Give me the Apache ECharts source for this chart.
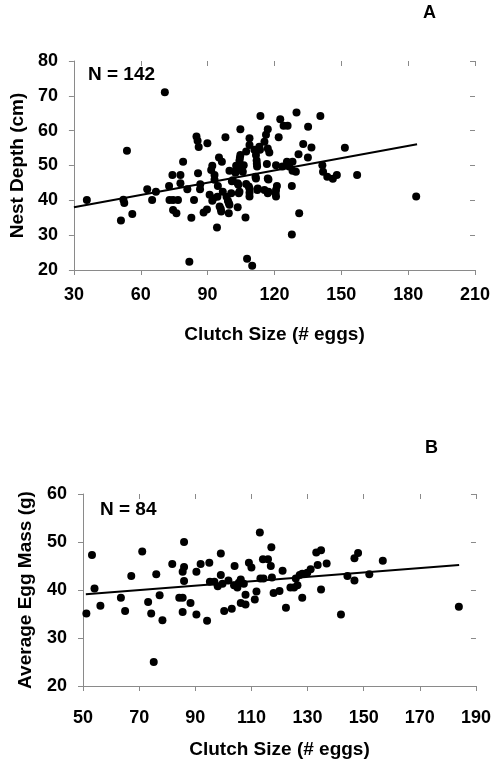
<!DOCTYPE html>
<html>
<head>
<meta charset="utf-8">
<script src="https://cdn.jsdelivr.net/npm/echarts@6/dist/echarts.min.js"></script>
<style>
  html, body { margin: 0; padding: 0; background: #fff; }
  #chart { width: 494px; height: 764px; }
</style>
</head>
<body>
<div id="chart"></div>
<script>
// panel A: clutch size vs nest depth (N = 142)
var nestDepthPoints = [
  [35.8,40.1],[51.1,34.2],[52.2,40.2],[52.6,39.2],[53.8,54.2],[56.2,36.1],[62.9,43.2],[65.1,40.1],[66.8,42.5],[70.8,71],
  [72.7,44.1],[72.9,40.1],[74.2,47.3],[74.5,40.1],[74.5,37.2],[76,36.3],[76.7,40.1],[77.8,47.3],[77.8,44.9],[79,51.1],
  [80.9,43.2],[81.8,22.4],[82.7,35],[83.9,40.1],
  [85,58.3],[85.5,57.1],[86,55.3],[85.7,47.8],[86.7,44.6],[86.6,43.2],[89.7,37.4],[93.1,47.3],[94.4,41],[98.5,41],
  [106.2,50.1],[116.6,50.4],[123.6,49.7],[126.6,49.7],
  [116.2,58.8],[98,58.1],[108.8,57.8],[121.9,58.1],[89.9,56.4],[115.5,56.8],[108.8,55.9],[113.2,55.4],[111,54.5],[117,54.9],
  [117.7,53.7],[107.3,54],[104.7,53],[111.7,53],[95.1,52.3],[104.3,51.4],[112,51.4],[96.4,51.1],[125.6,51.1],[128.1,51.1],
  [92.1,49.9],[102.8,49.9],[99.8,48.5],[104.7,49.2],[112.2,49.7],[120.7,50.1],[91.6,48.7],[128.1,48.5],[102.5,47.9],[105.8,48.2],
  [111.7,46.3],[117,46.3],[93.1,45.9],[101.3,45.8],[94.6,44.1],[103.5,44.9],[107.3,44.7],[121.1,44.1],[127.8,44.1],[96.8,42.5],
  [108.8,43.4],[112.5,43.4],[115.5,43],[120.7,43],[90.9,41.6],[100.6,42],[104.3,42.5],[117,42],[108.8,41.1],[120.7,41.1],
  [92.1,39.9],[99.1,39.9],[95.4,38.2],[99.8,38.7],[103.5,38],[88.2,36.5],[96.1,36.8],[99.5,36.3],[107,35.1],[94.2,32.2],
  [127.8,30.2],[107.7,23.2],[110,21.2],
  [104.7,60.4],[113.7,64.2],[117,60.4],[122.6,63.3],[124.1,61.4],[125.9,61.4],
  [129.6,48.2],[129.9,65.2],[130.8,53.2],[131.1,36.3],[132.9,56.2],[135,52.3],[135.1,61.1],[136.6,55.2],[140.6,64.2],[141.5,50.1],
  [141.8,48.2],[143.7,46.8],[146.2,46.2],[148,47.3],[151.6,55.1],[157.1,47.3],[183.6,41.1],
  [100.9,45.5],[103.8,44.5],[108.5,44],[112.3,43],[117.3,42.5],[120.5,42],[99.5,39.2],[104,42],[111.5,46.8],[117.3,46],
  [102.6,48.5],[105.3,48.7],[112.1,50.5],[108.8,42.2],[95.9,37.5],[92.5,40.5],[104.5,52.2],[113.5,54.5]
];
var nestDepthFit = [[30, 38.0], [184, 56.1]];

// panel B: clutch size vs average egg mass (N = 84)
var eggMassPoints = [
  [53.2,47.3],[71.1,48],[86,50],[113,52],[81.8,45.4],[86,44.8],[91.9,45.4],[95,45.7],[99.1,47.6],[104,45],
  [109.1,45.7],[114.1,46.4],[115.9,46.4],[117.1,48.9],[116.9,45],[133.1,47.8],[134.8,48.3],[133.6,45.2],[136.8,45.5],[148,47.7],
  [146.7,46.6],[156.8,46.1],
  [51.2,35.1],[54.1,40.3],[56.2,36.7],[63.5,38.4],[65,35.6],[67.2,42.9],[73.2,37.5],[74.3,35.1],[76.1,43.3],[77.3,38.9],
  [78.3,33.7],[75.2,25],[85.5,43.8],[86,41.9],[84.3,38.4],[85.5,38.4],[88.3,37.3],[85.5,35.4],[90.4,43.8],[90.4,34.9],
  [94.2,33.6],[95.2,41.7],[96.8,41.7],[98,40.8],[99.1,43.1],[100.3,35.6],[103,36.1],[101.8,42],[103.8,41],[105,40.5],
  [106.2,42.2],[107.3,41.3],[106.2,37.3],[107.9,37],[107.9,39],[110,44.7],[111.2,38],[111.8,39.7],[113.2,42.4],[114.3,42.4],
  [117.3,42.6],[117.9,39.4],[120,39.8],[121.1,44],[122.3,36.3],[123.9,40.5],[125.2,40.5],[125.8,42.4],[126.4,41],[128.1,38.4],
  [128.1,43.4],[129.9,43.6],[131.1,44.3],[134.8,40.1],[141.9,34.9],[144.2,42.9],[146.7,42],[152,43.3],[183.9,36.5],
  [99.7,41.3],[127.2,43.1],[105.5,41.5]
];
var eggMassFit = [[51, 39.1], [184, 45.2]];

var xRangeA = [30, 210, 30];
var yRangeA = [20, 80, 10];
var xRangeB = [50, 190, 20];
var yRangeB = [20, 60, 10];

var font = 'Liberation Sans, Arial, sans-serif';
var labelStyle = { fontFamily: font, fontWeight: 'bold', fontSize: 18, color: '#000' };
var nameStyle = { fontFamily: font, fontWeight: 'bold', fontSize: 19, color: '#000' };

// main axis: line, outer ticks, labels; twin axis: inner ticks only
function axisPair(gridIndex, range, name, gap, margin) {
  var main = {
    type: 'value', gridIndex: gridIndex,
    min: range[0], max: range[1], interval: range[2],
    name: name, nameLocation: 'middle', nameGap: gap, nameTextStyle: nameStyle,
    axisLine: { show: true, lineStyle: { color: '#8a8a8a', width: 1 } },
    axisTick: { show: true, inside: false, length: 5, lineStyle: { color: '#8a8a8a' } },
    axisLabel: Object.assign({ margin: margin }, labelStyle),
    splitLine: { show: false }
  };
  var twin = {
    type: 'value', gridIndex: gridIndex,
    min: range[0], max: range[1], interval: range[2],
    axisLine: { show: false },
    axisTick: { show: true, inside: true, length: 5, lineStyle: { color: '#8a8a8a' } },
    axisLabel: { show: false },
    splitLine: { show: false }
  };
  return [main, twin];
}

var xA = axisPair(0, xRangeA, 'Clutch Size (# eggs)', 55, 16);
var yA = axisPair(0, yRangeA, 'Nest Depth (cm)', 46, 16);
var xB = axisPair(1, xRangeB, 'Clutch Size (# eggs)', 54, 23);
var yB = axisPair(1, yRangeB, 'Average Egg Mass (g)', 48, 16);

var chart = echarts.init(document.getElementById('chart'));
chart.setOption({
  backgroundColor: '#fff',
  animation: false,
  grid: [
    { left: 72, top: 61, width: 403, height: 209 },
    { left: 83, top: 494, width: 399, height: 192 }
  ],
  xAxis: [xA[0], xA[1], xB[0], xB[1]],
  yAxis: [yA[0], yA[1], yB[0], yB[1]],
  graphic: [
    { type: 'text', left: 423, top: 4, style: { text: 'A', font: 'bold 18px ' + font, fill: '#000' } },
    { type: 'text', left: 88, top: 65, style: { text: 'N = 142', font: 'bold 19px ' + font, fill: '#000' } },
    { type: 'text', left: 425, top: 439, style: { text: 'B', font: 'bold 18px ' + font, fill: '#000' } },
    { type: 'text', left: 100, top: 500, style: { text: 'N = 84', font: 'bold 19px ' + font, fill: '#000' } }
  ],
  series: [
    {
      type: 'scatter', xAxisIndex: 0, yAxisIndex: 0,
      data: nestDepthPoints, symbolSize: 8,
      itemStyle: { color: '#000', opacity: 1 }
    },
    {
      type: 'line', xAxisIndex: 0, yAxisIndex: 0,
      data: nestDepthFit, symbol: 'none',
      lineStyle: { color: '#000', width: 2 }
    },
    {
      type: 'scatter', xAxisIndex: 2, yAxisIndex: 2,
      data: eggMassPoints, symbolSize: 8,
      itemStyle: { color: '#000', opacity: 1 }
    },
    {
      type: 'line', xAxisIndex: 2, yAxisIndex: 2,
      data: eggMassFit, symbol: 'none',
      lineStyle: { color: '#000', width: 2 }
    }
  ]
});
</script>
</body>
</html>
